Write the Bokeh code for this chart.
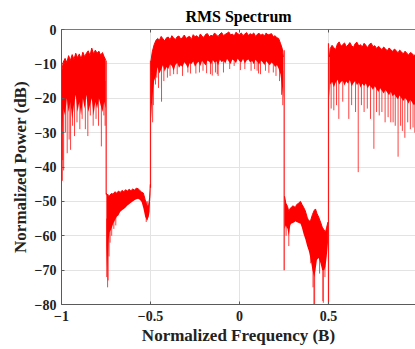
from bokeh.plotting import figure
from bokeh.models import LinearAxis, FixedTicker, Range1d
from bokeh.embed import file_html
from bokeh.resources import INLINE

# ---- data ----
# segment A : -1 .. -0.75
f_a = [-0.998, -0.99, -0.98, -0.97, -0.96, -0.95, -0.94, -0.93, -0.92, -0.91, -0.90, -0.89, -0.88,
       -0.87, -0.86, -0.85, -0.84, -0.83, -0.82, -0.81, -0.80, -0.79, -0.78, -0.77, -0.76, -0.752]
top_a = [-12, -9.5, -8.4, -9.6, -7.6, -9.0, -7.3, -8.7, -6.9, -8.2, -7.1, -8.6, -6.6,
         -7.9, -6.9, -6.2, -7.6, -5.4, -7.1, -6.0, -6.9, -6.3, -7.5, -6.7, -8.0, -8.8]
bot_a = [-30, -23, -25, -20, -24, -21, -26, -22, -19, -24, -21, -25, -20,
         -23, -19, -24, -22, -20, -25, -21, -23, -20, -22, -24, -21, -23]

# segment B : -0.75 .. -0.5
f_b = [-0.748, -0.744, -0.74, -0.735, -0.73, -0.72, -0.71, -0.70, -0.69, -0.68, -0.67, -0.66, -0.65,
       -0.64, -0.63, -0.62, -0.61, -0.60, -0.59, -0.58, -0.57, -0.56, -0.55, -0.54, -0.53, -0.52,
       -0.51, -0.505, -0.501]
top_b = [-47.6, -48.2, -47.9, -48.6, -48.3, -47.7, -47.9, -47.2, -47.6, -47.0, -47.4, -46.8, -47.2,
         -46.6, -47.0, -46.5, -46.9, -46.4, -46.7, -46.2, -46.3, -46.8, -47.3, -47.6, -49.5, -51.5,
         -51.0, -49.0, -45.0]
bot_b = [-63, -70, -66, -61, -59, -58, -56.5, -55.5, -54.5, -54, -53, -52.6, -52.2,
         -51.8, -51.2, -50.8, -50.4, -50.0, -49.7, -49.4, -49.2, -49.5, -50.2, -52, -54.5, -55.5,
         -54.5, -53, -48]

# segment C : -0.5 .. 0.25
f_c = [-0.497, -0.49, -0.48, -0.47, -0.46, -0.45, -0.44, -0.43, -0.42, -0.41, -0.40, -0.39, -0.38,
       -0.37, -0.36, -0.35, -0.34, -0.33, -0.32, -0.31, -0.30, -0.29, -0.28, -0.27, -0.26, -0.25,
       -0.24, -0.23, -0.22, -0.21, -0.20, -0.19, -0.18, -0.17, -0.16, -0.15, -0.14, -0.13, -0.12,
       -0.11, -0.10, -0.09, -0.08, -0.07, -0.06, -0.05, -0.04, -0.03, -0.02, -0.01, 0.00, 0.01,
       0.02, 0.03, 0.04, 0.05, 0.06, 0.07, 0.08, 0.09, 0.10, 0.11, 0.12, 0.13, 0.14, 0.15, 0.16,
       0.17, 0.18, 0.19, 0.20, 0.21, 0.22, 0.23, 0.24, 0.246]
top_c = [-9, -6.5, -4.5, -3.2, -2.6, -3.1, -2.0, -2.7, -3.3, -2.4,
         -2.2, -3.0, -1.8, -2.5, -2.9, -2.1, -1.9, -2.8, -2.3, -1.6,
         -2.6, -2.2, -2.0, -2.9, -1.5, -2.1, -1.8, -2.5, -1.3, -2.0,
         -2.3, -1.4, -1.2, -2.1, -1.7, -1.9, -1.0, -1.6, -2.0, -1.3,
         -0.9, -1.8, -1.4, -1.1, -0.7, -1.6, -1.3, -1.9, -0.8, -1.2,
         -1.5, -1.0, -1.8, -1.3, -0.9, -1.7, -1.2, -1.5, -1.0, -2.0,
         -1.4, -1.1, -1.7, -1.3, -1.9, -1.0, -1.6, -1.4, -1.2, -2.1,
         -1.8, -2.4, -2.6, -4.0, -5.5, -8.0]
bot_c = [-26, -20, -15, -13.5, -11, -12.8, -11.6, -10.4, -12.2, -10.9,
         -11.5, -10.1, -10.6, -12.0, -10.3, -9.7, -11.1, -10.4, -10.9, -9.5,
         -10.2, -11.3, -9.8, -10.0, -9.3, -10.8, -9.9, -9.4, -10.6, -9.1,
         -9.8, -10.5, -9.0, -9.4, -10.2, -8.9, -9.7, -9.2, -10.4, -8.8,
         -9.5, -9.0, -9.9, -8.6, -9.3, -10.0, -8.7, -9.1, -9.8, -8.5,
         -9.2, -9.6, -8.6, -9.9, -9.0, -8.7, -9.6, -9.1, -10.1, -8.8,
         -9.4, -10.2, -9.0, -9.5, -10.3, -9.2, -9.8, -10.4, -9.6, -10.0,
         -10.9, -10.3, -11.4, -13, -17, -20]

# segment D : 0.25 .. 0.5
f_d = [0.253, 0.26, 0.27, 0.277, 0.285, 0.29, 0.30, 0.31, 0.315, 0.32, 0.33, 0.34, 0.343, 0.35,
       0.36, 0.37, 0.38, 0.39, 0.40, 0.41, 0.42, 0.427, 0.435, 0.445, 0.455, 0.465, 0.475, 0.483,
       0.49, 0.497]
top_d = [-48.5, -50.5, -51.5, -53, -52, -51.8, -51.3, -51.6, -51.7, -51.0, -50.6, -50.1, -50.0, -50.8,
         -51.7, -52.8, -54.6, -55.8, -55.5, -53.8, -52.6, -52.2, -53.5, -54.6, -56.0, -57.5, -58.3, -59.0,
         -57.5, -56]
bot_d = [-58, -57, -58, -60, -57, -56.5, -56.3, -56.0, -55.8, -56.0, -56.2, -56.4, -56.5, -57.5,
         -59.5, -61, -63, -64.5, -67, -70, -72, -70, -67, -66.5, -68, -70, -70, -69,
         -66, -62]

# segment E : 0.5 .. 1
f_e = [0.505, 0.51, 0.52, 0.53, 0.54, 0.55, 0.56, 0.57, 0.58, 0.59, 0.60, 0.61, 0.62, 0.63, 0.64,
       0.65, 0.66, 0.67, 0.68, 0.69, 0.70, 0.71, 0.72, 0.73, 0.74, 0.75, 0.76, 0.77, 0.78, 0.79,
       0.80, 0.81, 0.82, 0.83, 0.84, 0.85, 0.86, 0.87, 0.88, 0.89, 0.90, 0.91, 0.92, 0.93, 0.94,
       0.95, 0.96, 0.97, 0.98, 0.99]
top_e = [-8, -5.5, -4.6, -5.3, -5.8, -4.2, -3.6, -4.9, -4.4, -3.9,
         -5.0, -4.5, -3.8, -4.7, -5.2, -4.1, -3.7, -4.8, -4.4, -5.1,
         -4.0, -4.6, -5.3, -4.3, -4.0, -5.0, -4.7, -5.5, -4.9, -5.3,
         -5.9, -5.1, -5.6, -6.2, -5.4, -5.8, -6.4, -5.7, -6.1, -6.8,
         -6.0, -6.5, -7.1, -6.3, -6.9, -7.4, -6.7, -7.0, -7.6, -7.2]
bot_e = [-20, -16, -15.2, -16.8, -15.5, -14.6, -16.0, -15.3, -14.9, -16.3,
         -15.1, -15.8, -14.7, -16.5, -15.6, -15.0, -16.2, -15.4, -16.9, -15.8,
         -16.4, -15.7, -17.1, -16.2, -16.8, -17.5, -16.5, -17.3, -18.2, -17.1,
         -17.8, -18.6, -17.6, -18.3, -19.1, -18.1, -19.4, -18.8, -19.6, -20.3,
         -19.2, -20.0, -20.8, -19.9, -20.6, -21.5, -20.4, -21.2, -22.0, -21.5]

# deep dips of the noisy trace (frequency, upper end, lower end)
dip_f = [-0.997, -0.993, -0.988, -0.978, -0.968, -0.957, -0.949, -0.938, -0.927, -0.913, -0.897, -0.884,
         -0.866, -0.852, -0.838, -0.822, -0.806, -0.792, -0.776, -0.762, -0.755,
         -0.746, -0.741, -0.738, -0.733, -0.727, -0.718, -0.706, -0.695, -0.524, -0.518,
         -0.488, -0.484, -0.472, -0.465, -0.455, -0.438, -0.425, -0.405, -0.39, -0.37, -0.35, -0.32,
         -0.29, -0.275, -0.245, -0.225, -0.205, -0.185, -0.163, -0.153, -0.135, -0.125, -0.12, -0.09,
         -0.055, -0.03, 0.005, 0.03, 0.065, 0.085, 0.099, 0.107, 0.118, 0.146, 0.165, 0.19, 0.205,
         0.225, 0.236, 0.243,
         0.262, 0.277, 0.40, 0.413, 0.418, 0.422, 0.45, 0.468, 0.471, 0.48,
         0.515, 0.53, 0.545, 0.558, 0.58, 0.614, 0.63, 0.652, 0.667, 0.685, 0.70, 0.718, 0.736, 0.755,
         0.77, 0.785, 0.80, 0.818, 0.835, 0.85, 0.863, 0.875, 0.891, 0.905, 0.915, 0.929, 0.945, 0.96,
         0.975, 0.985]
dip_hi = [-15, -15, -15, -15, -15, -15, -15, -15, -15, -15, -15, -15,
          -15, -15, -15, -15, -15, -15, -15, -15, -15,
          -55, -55, -55, -55, -55, -55, -52, -52, -50, -50,
          -12, -12, -10, -10, -10, -10, -9, -9, -9, -9, -9, -9,
          -9, -9, -9, -8, -8, -8, -8, -8, -8, -8, -8, -8,
          -8, -8, -8, -8, -8, -8, -8, -8, -8, -8, -8, -9, -9,
          -10, -10, -12,
          -54, -55, -60, -64, -65, -66, -64, -66, -66, -64,
          -14, -14, -14, -14, -14, -14, -14, -14, -14, -14, -15, -15, -15, -15,
          -16, -16, -16, -17, -17, -17, -17, -18, -18, -18, -18, -19, -19, -19,
          -19, -19]
dip_lo = [-44, -38, -41, -30, -36, -32, -35, -28, -31, -27, -29, -26,
          -29, -31, -25, -28, -26, -28, -34, -25, -28,
          -72, -75, -73, -66, -62, -60, -58, -57, -56, -55.5,
          -27, -22, -16, -14, -17, -21, -15, -14, -13.5, -13, -13, -13.5,
          -12.5, -12.8, -12.8, -12.5, -12, -12.7, -13, -13.4, -12.5, -13, -13.5, -12.5,
          -11.5, -10.6, -11.8, -11.5, -12, -11.5, -12, -12.8, -13, -12, -12.6, -12.5, -13.5,
          -15, -19, -22,
          -60, -63, -68, -75, -80, -80, -71, -79, -79.5, -72,
          -23, -23.5, -22, -26, -21, -26, -22, -24, -41.5, -22, -24, -23, -26, -34.7,
          -24, -25, -24, -27, -25.5, -27, -27, -28, -37, -28, -29.5, -31.5, -27, -29,
          -28.5, -30]

# band edges (frequency, upper end, lower end)
edge_f = [-0.998, -0.749, -0.500, 0.251, 0.500]
edge_hi = [-12, -9, -9, -6, -4]
edge_lo = [-44, -48, -46, -70, -80]

x_ticks = [-1, -0.5, 0, 0.5, 1]
y_ticks = [-80, -70, -60, -50, -40, -30, -20, -10, 0]

RED = "#ff0000"
FONT = "Liberation Serif"

p = figure(width=415, height=349, output_backend="svg", toolbar_location=None,
           x_range=Range1d(-1, 0.9888), y_range=Range1d(-80, 0),
           min_border_left=61, min_border_right=0, min_border_top=29, min_border_bottom=45)
p.outline_line_color = None
p.background_fill_color = "white"
p.border_fill_color = "white"

for f, t, b in [(f_a, top_a, bot_a), (f_b, top_b, bot_b), (f_c, top_c, bot_c),
                (f_d, top_d, bot_d), (f_e, top_e, bot_e)]:
    p.varea(x=f, y1=t, y2=b, fill_color=RED, fill_alpha=1.0)
    p.line(x=f, y=t, line_color=RED, line_width=1)

p.segment(x0=dip_f, y0=dip_hi, x1=dip_f, y1=dip_lo, line_color=RED, line_width=1, line_alpha=0.75)
p.segment(x0=edge_f, y0=edge_hi, x1=edge_f, y1=edge_lo, line_color=RED, line_width=1.2, line_alpha=0.9)

# title
p.title.text = "RMS Spectrum"
p.title.align = "center"
p.title.text_font = FONT
p.title.text_font_style = "bold"
p.title.text_font_size = "16px"
p.title.text_color = "black"

# axes
for ax in (p.xaxis[0], p.yaxis[0]):
    ax.axis_line_color = "#5a5a5a"
    ax.axis_line_width = 1
    ax.major_tick_in = 3
    ax.major_tick_out = 0
    ax.minor_tick_in = 0
    ax.minor_tick_out = 0
    ax.major_tick_line_color = "#5a5a5a"
    ax.major_label_text_font = FONT
    ax.major_label_text_font_style = "bold"
    ax.major_label_text_font_size = "14px"
    ax.major_label_text_color = "#222222"
    ax.axis_label_text_font = FONT
    ax.axis_label_text_font_style = "bold"
    ax.axis_label_text_font_size = "17px"
    ax.axis_label_text_color = "#222222"

p.xaxis[0].ticker = FixedTicker(ticks=x_ticks)
p.yaxis[0].ticker = FixedTicker(ticks=y_ticks)
p.xaxis[0].axis_label = "Normalized Frequency (B)"
p.yaxis[0].axis_label = "Normalized Power (dB)"
p.xaxis[0].major_label_standoff = 6
p.xaxis[0].axis_label_standoff = 2
p.yaxis[0].major_label_standoff = 5
p.yaxis[0].axis_label_standoff = 2

# top frame line with inward tick marks only (no labels)
top_axis = LinearAxis(ticker=FixedTicker(ticks=[], minor_ticks=x_ticks),
                      major_tick_in=0, major_tick_out=0, minor_tick_in=3, minor_tick_out=0,
                      axis_line_color="#7a7a7a", minor_tick_line_color="#5a5a5a",
                      major_label_standoff=0)
p.add_layout(top_axis, "above")

p.xgrid.ticker = FixedTicker(ticks=x_ticks)
p.ygrid.ticker = FixedTicker(ticks=y_ticks)
p.grid.grid_line_color = "#e3e3e3"
p.grid.grid_line_width = 1

open("out.html", "w").write(file_html(p, INLINE))
